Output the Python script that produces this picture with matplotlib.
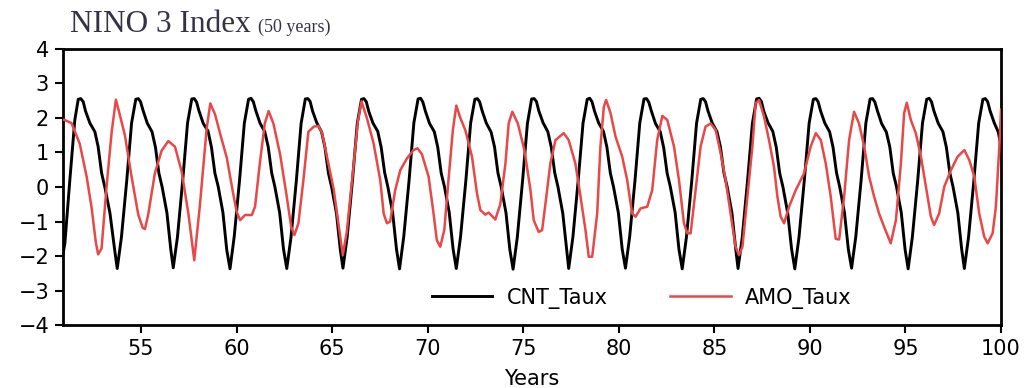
import numpy as np
import matplotlib.pyplot as plt

# CNT_Taux (black)
cnt_years = [
    50.92, 51.02, 51.28, 51.54, 51.72, 51.85, 51.98, 52.10, 52.33, 52.59, 52.76, 52.94, 53.11, 53.38, 53.62,
    53.76, 53.98, 54.26, 54.51, 54.73, 54.86, 54.98, 55.11, 55.33, 55.58, 55.76, 55.94, 56.11, 56.36, 56.56,
    56.69, 56.91, 57.19, 57.44, 57.66, 57.79, 57.91, 58.04, 58.26, 58.51, 58.69, 58.87, 59.04, 59.29, 59.49,
    59.66, 59.88, 60.16, 60.41, 60.63, 60.76, 60.88, 61.01, 61.23, 61.48, 61.66, 61.84, 62.01, 62.26, 62.46,
    62.63, 62.85, 63.13, 63.38, 63.60, 63.73, 63.85, 63.98, 64.20, 64.45, 64.63, 64.81, 64.98, 65.23, 65.43,
    65.57, 65.79, 66.07, 66.32, 66.54, 66.67, 66.79, 66.92, 67.14, 67.39, 67.57, 67.75, 67.92, 68.17, 68.37,
    68.53, 68.75, 69.03, 69.28, 69.50, 69.63, 69.75, 69.88, 70.10, 70.35, 70.53, 70.71, 70.88, 71.13, 71.33,
    71.50, 71.72, 72.00, 72.25, 72.47, 72.60, 72.72, 72.85, 73.07, 73.32, 73.50, 73.68, 73.85, 74.10, 74.30,
    74.47, 74.69, 74.97, 75.22, 75.44, 75.57, 75.69, 75.82, 76.04, 76.29, 76.47, 76.65, 76.82, 77.07, 77.27,
    77.38, 77.60, 77.88, 78.13, 78.35, 78.48, 78.60, 78.73, 78.95, 79.20, 79.38, 79.56, 79.73, 79.98, 80.18,
    80.35, 80.57, 80.85, 81.10, 81.32, 81.45, 81.57, 81.70, 81.92, 82.17, 82.35, 82.53, 82.70, 82.95, 83.15,
    83.32, 83.54, 83.82, 84.07, 84.29, 84.42, 84.54, 84.67, 84.89, 85.14, 85.32, 85.50, 85.67, 85.92, 86.12,
    86.24, 86.46, 86.74, 86.99, 87.21, 87.34, 87.46, 87.59, 87.81, 88.06, 88.24, 88.42, 88.59, 88.84, 89.04,
    89.21, 89.43, 89.71, 89.96, 90.18, 90.31, 90.43, 90.56, 90.78, 91.03, 91.21, 91.39, 91.56, 91.81, 92.01,
    92.18, 92.40, 92.68, 92.93, 93.15, 93.28, 93.40, 93.53, 93.75, 94.00, 94.18, 94.36, 94.53, 94.78, 94.98,
    95.14, 95.36, 95.64, 95.89, 96.11, 96.24, 96.36, 96.49, 96.71, 96.96, 97.14, 97.32, 97.49, 97.74, 97.94,
    98.08, 98.30, 98.58, 98.83, 99.05, 99.18, 99.30, 99.43, 99.65, 99.85, 100.0,
]
cnt_vals = [
    -1.95, -1.63, 0.20, 1.94, 2.54, 2.56, 2.47, 2.20, 1.85, 1.60, 1.17, 0.41, 0.00, -0.76, -1.80,
    -2.36, -1.45, 0.20, 1.85, 2.54, 2.56, 2.47, 2.22, 1.85, 1.60, 1.15, 0.40, 0.00, -0.75, -1.80,
    -2.34, -1.45, 0.22, 1.86, 2.55, 2.56, 2.46, 2.20, 1.84, 1.62, 1.15, 0.40, 0.02, -0.74, -1.82,
    -2.37, -1.44, 0.20, 1.85, 2.54, 2.57, 2.47, 2.21, 1.85, 1.60, 1.16, 0.41, 0.00, -0.75, -1.80,
    -2.36, -1.46, 0.18, 1.84, 2.55, 2.56, 2.48, 2.20, 1.86, 1.60, 1.14, 0.40, -0.01, -0.76, -1.81,
    -2.35, -1.45, 0.21, 1.85, 2.54, 2.56, 2.47, 2.19, 1.85, 1.61, 1.15, 0.42, 0.00, -0.75, -1.80,
    -2.37, -1.44, 0.20, 1.86, 2.55, 2.57, 2.46, 2.20, 1.84, 1.60, 1.15, 0.40, 0.01, -0.74, -1.79,
    -2.36, -1.45, 0.19, 1.85, 2.54, 2.56, 2.47, 2.21, 1.85, 1.59, 1.16, 0.40, 0.00, -0.75, -1.81,
    -2.38, -1.46, 0.20, 1.84, 2.55, 2.56, 2.48, 2.20, 1.86, 1.60, 1.15, 0.41, 0.00, -0.76, -1.80,
    -2.36, -1.45, 0.21, 1.85, 2.54, 2.57, 2.47, 2.20, 1.85, 1.61, 1.15, 0.40, -0.01, -0.75, -1.80,
    -2.35, -1.44, 0.20, 1.86, 2.55, 2.56, 2.46, 2.21, 1.84, 1.60, 1.14, 0.40, 0.00, -0.74, -1.81,
    -2.37, -1.45, 0.19, 1.85, 2.54, 2.56, 2.47, 2.20, 1.85, 1.60, 1.16, 0.41, 0.01, -0.75, -1.80,
    -2.36, -1.46, 0.20, 1.84, 2.55, 2.57, 2.48, 2.19, 1.86, 1.61, 1.15, 0.40, 0.00, -0.76, -1.79,
    -2.37, -1.45, 0.21, 1.85, 2.54, 2.56, 2.47, 2.20, 1.85, 1.60, 1.15, 0.42, 0.00, -0.75, -1.80,
    -2.35, -1.44, 0.20, 1.86, 2.55, 2.56, 2.46, 2.21, 1.84, 1.59, 1.16, 0.40, 0.01, -0.74, -1.81,
    -2.37, -1.45, 0.19, 1.85, 2.54, 2.57, 2.47, 2.20, 1.85, 1.60, 1.15, 0.41, 0.00, -0.75, -1.80,
    -2.36, -1.45, 0.20, 1.85, 2.54, 2.56, 2.47, 2.20, 1.85, 1.60, 1.20,
]

# AMO_Taux (red)
amo_years = [
    50.92, 51.02, 51.37, 51.80, 52.16, 52.42, 52.64, 52.76, 52.94, 53.20, 53.47, 53.69, 53.90, 54.16,
    54.51, 54.86, 55.09, 55.21, 55.38, 55.73, 56.08, 56.43, 56.78, 57.13, 57.48, 57.79, 58.09, 58.44,
    58.63, 58.88, 59.14, 59.49, 59.83, 60.01, 60.19, 60.45, 60.80, 60.97, 61.22, 61.48, 61.68, 61.93,
    62.28, 62.63, 62.86, 63.03, 63.24, 63.50, 63.76, 64.05, 64.29, 64.47, 64.73, 65.08, 65.34, 65.56,
    65.77, 66.12, 66.35, 66.54, 66.82, 67.17, 67.52, 67.70, 67.87, 68.04, 68.30, 68.57, 68.92, 69.26,
    69.47, 69.70, 70.05, 70.31, 70.48, 70.66, 70.87, 71.09, 71.32, 71.50, 71.71, 71.97, 72.32, 72.58,
    72.76, 73.02, 73.19, 73.54, 73.80, 74.07, 74.24, 74.43, 74.72, 75.07, 75.38, 75.55, 75.81, 75.99,
    76.16, 76.42, 76.69, 77.12, 77.38, 77.73, 78.00, 78.26, 78.43, 78.61, 78.87, 79.04, 79.22, 79.34,
    79.57, 79.83, 80.18, 80.44, 80.70, 80.88, 81.14, 81.49, 81.75, 82.01, 82.28, 82.54, 82.89, 83.15,
    83.41, 83.59, 83.76, 84.02, 84.28, 84.54, 84.81, 85.07, 85.33, 85.59, 85.85, 86.11, 86.29, 86.47,
    86.73, 86.99, 87.16, 87.34, 87.60, 87.86, 88.12, 88.30, 88.47, 88.65, 88.91, 89.26, 89.69, 90.04,
    90.31, 90.57, 90.83, 91.09, 91.35, 91.53, 91.79, 92.05, 92.31, 92.57, 92.84, 93.10, 93.36, 93.62,
    93.88, 94.23, 94.50, 94.76, 94.93, 95.07, 95.28, 95.54, 95.81, 96.07, 96.33, 96.50, 96.76, 97.03,
    97.38, 97.73, 98.08, 98.34, 98.60, 98.86, 99.12, 99.30, 99.56, 99.73, 99.91, 100.0,
]
amo_vals = [
    1.95, 1.94, 1.85, 1.25, 0.30, -0.60, -1.60, -1.95, -1.78, 0.00, 1.60, 2.53, 2.08, 1.50,
    0.30, -0.80, -1.18, -1.22, -0.80, 0.40, 1.05, 1.33, 1.17, 0.45, -0.76, -2.12, -0.50, 1.70,
    2.42, 2.10, 1.55, 0.85, -0.20, -0.72, -0.96, -0.81, -0.81, -0.57, 0.68, 1.84, 2.20, 1.84,
    0.95, -0.28, -1.15, -1.39, -1.05, 0.20, 1.60, 1.75, 1.77, 1.58, 0.88, -0.05, -1.10, -1.97,
    -1.30, 0.60, 1.90, 2.48, 2.00, 1.27, 0.20, -0.77, -1.05, -1.00, -0.10, 0.49, 0.83, 1.07,
    1.12, 0.95, 0.30, -0.77, -1.54, -1.73, -1.25, 0.20, 1.65, 2.36, 2.00, 1.65, 0.88, -0.18,
    -0.67, -0.80, -0.74, -0.94, -0.50, 0.68, 1.84, 2.18, 1.84, 1.05, -0.09, -0.96, -1.30, -1.25,
    -0.50, 0.68, 1.36, 1.56, 1.36, 0.68, -0.28, -1.25, -2.02, -2.02, -0.77, 1.17, 2.33, 2.52,
    2.14, 1.46, 0.88, 0.20, -0.77, -0.86, -0.62, -0.57, -0.09, 1.36, 2.06, 1.94, 1.17, 0.20,
    -1.05, -1.34, -1.34, -0.09, 1.17, 1.75, 1.84, 1.65, 0.98, 0.20, -0.77, -1.73, -1.97, -1.73,
    -0.28, 1.17, 2.43, 2.52, 2.04, 1.36, 0.59, -0.28, -0.86, -1.05, -0.57, -0.09, 0.39, 1.17,
    1.56, 1.36, 0.68, -0.28, -1.50, -1.52, -0.28, 1.36, 2.18, 1.84, 1.17, 0.30, -0.28, -0.77,
    -1.15, -1.63, -0.96, 0.68, 2.14, 2.44, 1.94, 1.56, 0.88, 0.01, -0.86, -1.10, -0.77, 0.01,
    0.49, 0.88, 1.07, 0.78, 0.30, -0.77, -1.44, -1.63, -1.34, -0.57, 1.17, 2.24,
]

x_ticks = [55, 60, 65, 70, 75, 80, 85, 90, 95, 100]
y_ticks = [-4, -3, -2, -1, 0, 1, 2, 3, 4]

fig = plt.figure(figsize=(10.32, 3.88), dpi=100)
ax = fig.add_axes([0.061, 0.162, 0.909, 0.712])

ax.plot(cnt_years, cnt_vals, color='black', linewidth=2.1, label='CNT_Taux', zorder=2)
ax.plot(amo_years, amo_vals, color='#e84848', linewidth=1.8, label='AMO_Taux', zorder=3)

ax.set_xlim(50.92, 100)
ax.set_ylim(-4, 4)
ax.set_xticks(x_ticks)
ax.set_yticks(y_ticks)
ax.tick_params(direction='out', length=6, width=1.5, labelsize=15, pad=4)
for s in ax.spines.values():
    s.set_linewidth(2)

ax.set_xlabel('Years', fontsize=15, labelpad=7)

ax.legend(loc='center left', bbox_to_anchor=(0.393, 0.098), frameon=False,
          ncol=2, fontsize=15, handlelength=2.9, handletextpad=0.7,
          columnspacing=3.0, borderpad=0, borderaxespad=0)

fig.text(0.068, 0.9175, 'NINO 3 Index', family='Liberation Serif', fontsize=22.5,
         color='#333344', va='baseline')
fig.text(0.25, 0.9175, '(50 years)', family='Liberation Serif', fontsize=13,
         color='#333344', va='baseline')

fig.savefig('out.png', dpi=100)
